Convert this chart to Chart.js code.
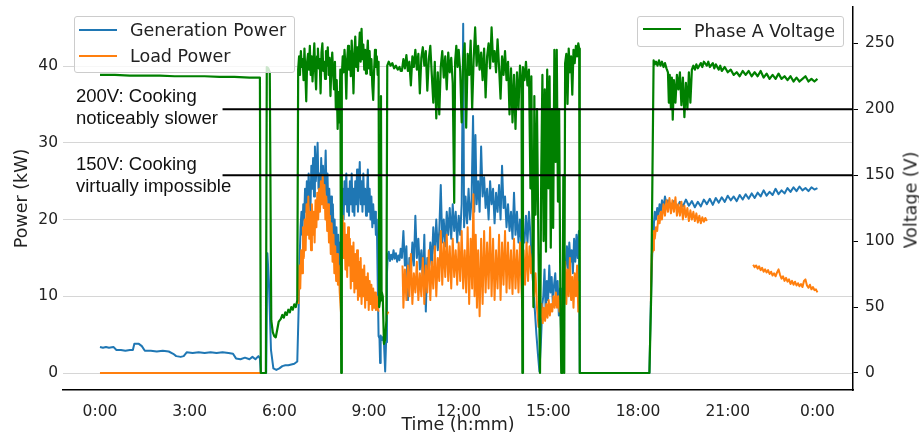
<!DOCTYPE html>
<html>
<head>
<meta charset="utf-8">
<script src="https://cdn.jsdelivr.net/npm/chart.js@4.4.1/dist/chart.umd.min.js"></script>
<style>
  html, body { margin: 0; padding: 0; background: #fff; }
  #wrap { position: relative; width: 919px; height: 439px; overflow: hidden; }
  #profile { display: block; }
  .box { position: absolute; box-sizing: border-box; border: 1px solid #cccccc; border-radius: 3px; background: rgba(255,255,255,0.8); }
  .swatch { position: absolute; height: 2px; }
  .txt { position: absolute; font: 17.5px "DejaVu Sans"; line-height: 19px; white-space: nowrap; color: #222; }
  .note { position: absolute; font: 18.5px "Liberation Sans"; line-height: 22px; white-space: nowrap; color: #111; }
  #vtitle { position: absolute; left: 911px; top: 200px; font: 17.5px "DejaVu Sans"; line-height: 19px; white-space: nowrap; color: #222;
            transform: translate(-50%, -50%) rotate(-90deg); }
</style>
</head>
<body>
<div id="wrap">
  <canvas id="profile" width="919" height="439"></canvas>

  <div class="box" style="left:74px;top:16px;width:221px;height:57px;"></div>
  <div class="swatch" style="left:79px;top:29px;width:38px;background:#1f77b4;"></div>
  <div class="txt" style="left:130px;top:21px;">Generation Power</div>
  <div class="swatch" style="left:79px;top:55px;width:38px;background:#ff7f0e;"></div>
  <div class="txt" style="left:130px;top:47px;">Load Power</div>

  <div class="box" style="left:637px;top:16px;width:207px;height:31px;"></div>
  <div class="swatch" style="left:643px;top:28px;width:38px;background:#008000;"></div>
  <div class="txt" style="left:694px;top:21.5px;">Phase A Voltage</div>

  <div class="note" style="left:76px;top:85px;">200V: Cooking<br>noticeably slower</div>
  <div class="note" style="left:76px;top:153px;">150V: Cooking<br>virtually impossible</div>

  <div id="vtitle">Voltage (V)</div>
</div>

<script>
// x ticks (hours of the day)
const tickHours = [0, 3, 6, 9, 12, 15, 18, 21, 24];
const tickLabels = ["0:00", "3:00", "6:00", "9:00", "12:00", "15:00", "18:00", "21:00", "0:00"];
const powerTicks = [0, 10, 20, 30, 40];
const voltTicks = [0, 50, 100, 150, 200, 250];

// cooking thresholds (V), drawn from this hour to the right edge
const thresholdVolts = [200, 150];
const thresholdFrom = 4.1;

// Generation power (kW)
const genHours = [
  0, 0.1, 0.2, 0.3, 0.45, 0.55, 0.7, 0.85, 1.0, 1.1, 1.15, 1.3, 1.4, 1.5, 1.7, 1.9, 2.1, 2.3, 2.45, 2.55, 2.7, 2.8, 2.9,
  3.1, 3.3, 3.5, 3.7, 3.9, 4.1, 4.3, 4.45, 4.55, 4.7, 4.85, 5.0, 5.1, 5.2, 5.3, 5.35,
  5.38, 5.56, 5.6, 5.65, 5.72, 5.8, 5.9, 6.0, 6.1, 6.2, 6.3, 6.4, 6.5, 6.6,
  6.65, 6.68, 6.71, 6.74, 6.77, 6.8, 6.83, 6.86, 6.89, 6.92, 6.95, 6.98, 7.01, 7.04, 7.07, 7.1, 7.13, 7.16, 7.19, 7.22,
  7.25, 7.28, 7.31, 7.34, 7.37, 7.4, 7.43, 7.46, 7.49, 7.52, 7.55, 7.58, 7.61, 7.64, 7.67, 7.7, 7.73, 7.76, 7.79, 7.82,
  7.85, 7.88, 7.91, 7.94, 7.97, 8.0, 8.03, 8.06, 8.09, 8.12, 8.15, 8.18, 8.21, 8.24, 8.27, 8.3, 8.33, 8.36, 8.39, 8.42,
  8.45, 8.48, 8.51, 8.54, 8.57, 8.6, 8.63, 8.66, 8.69, 8.72, 8.75, 8.78, 8.81, 8.84, 8.87, 8.9, 8.93, 8.96, 8.99, 9.02,
  9.05, 9.08, 9.11, 9.14, 9.17, 9.2, 9.23, 9.26, 9.29, 9.32, 9.35, 9.37, 9.39, 9.43, 9.47, 9.5, 9.54, 9.57, 9.6, 9.63,
  9.66, 9.7, 9.74, 9.78, 9.82, 9.86, 9.9, 9.94, 9.98, 10.02, 10.06, 10.1,
  10.15, 10.2, 10.25, 10.3, 10.35, 10.4, 10.45, 10.5, 10.55, 10.6, 10.65, 10.7, 10.75, 10.8, 10.85, 10.9, 10.95, 11.0,
  11.05, 11.1, 11.15, 11.2, 11.25, 11.3, 11.35, 11.4, 11.45, 11.5, 11.55, 11.6, 11.65, 11.7, 11.75, 11.8, 11.85, 11.9,
  11.95, 12.0, 12.05, 12.1, 12.15, 12.18, 12.23, 12.28, 12.33, 12.38, 12.43, 12.48, 12.52, 12.56, 12.6, 12.65, 12.7,
  12.75, 12.8, 12.85, 12.9, 12.95, 13.0, 13.05, 13.1, 13.15, 13.2, 13.25, 13.3, 13.35, 13.4, 13.45, 13.5, 13.55, 13.6,
  13.65, 13.7, 13.75, 13.8, 13.85, 13.9, 13.95, 14.0, 14.05, 14.1, 14.13, 14.16, 14.2, 14.25, 14.3, 14.35, 14.4, 14.45,
  14.5, 14.55, 14.6, 14.65, 14.7, 14.75, 14.8,
  14.83, 14.87, 14.91, 14.95, 14.99, 15.03, 15.07, 15.11, 15.15, 15.19, 15.23, 15.27, 15.31, 15.35, 15.39, 15.42, 15.45,
  15.49, 15.52, 15.55, 15.58, 15.62, 15.66, 15.7, 15.74, 15.78, 15.82, 15.86, 15.9, 15.94, 15.98, 16.02, 16.05, 18.38,
  18.41, 18.44, 18.47, 18.5, 18.53, 18.56, 18.6, 18.64, 18.68, 18.72, 18.76, 18.8, 18.85, 18.9, 18.95, 19.0, 19.1, 19.2,
  19.3, 19.4, 19.5, 19.6, 19.7, 19.8, 19.9, 20.0, 20.1, 20.2, 20.3, 20.4, 20.5, 20.6, 20.7, 20.8, 20.9, 21.0, 21.1, 21.2,
  21.3, 21.4, 21.5, 21.6, 21.7, 21.8, 21.9, 22.0, 22.1, 22.2, 22.3, 22.4, 22.5, 22.6, 22.7, 22.8, 22.9, 23.0, 23.1, 23.2,
  23.3, 23.4, 23.5, 23.6, 23.7, 23.8, 23.9, 24.0
];
const genKW = [
  3.4, 3.3, 3.4, 3.3, 3.4, 3.0, 3.0, 2.9, 3.0, 3.0, 3.8, 3.8, 3.5, 2.9, 2.9, 2.8, 2.9, 2.8, 2.5, 2.2, 2.1, 2.2, 2.7,
  2.6, 2.7, 2.6, 2.7, 2.6, 2.7, 2.6, 2.5, 1.9, 1.8, 2.0, 1.8, 2.1, 1.8, 2.2, 1.9,
  0, 0, 15.6, 12, 3, 0.6, 0.4, 0.6, 0.9, 1.0, 1.0, 1.1, 1.2, 1.5,
  9, 15, 19, 21, 18, 22, 20, 24, 21, 25, 22, 26, 23, 21, 27, 24, 28, 23, 29.5, 25,
  27, 30, 24, 26, 22, 28, 24, 27, 22, 25, 29, 23, 26, 21, 24, 20, 23, 18, 22, 17,
  20, 14.5, 19, 15, 18, 14, 17, 11, 21, 24, 20, 25, 22, 26, 21, 24, 20.5, 25, 22, 26,
  21, 24, 20.5, 25, 22, 26.5, 21, 24, 27.5, 22, 25, 21, 26, 22, 24, 20.5, 23, 26.5, 21, 24,
  20, 23, 19, 22, 19.5, 21, 18, 20, 12, 4.8, 4.5, 1.3, 4.9, 4.3, 4.7, 3.9, 0.2, 4, 13, 15.5,
  15.8, 14.6, 15.4, 14.8, 16, 14.9, 15.6, 14.5, 15.3, 14.7, 16.2, 15,
  18.5, 14, 16.5, 9.5, 15, 13, 17, 14, 20.5, 15, 17.5, 13.5, 16, 12, 18, 8, 15, 13,
  17, 14, 19, 15.5, 20, 16, 18.5, 24.5, 17, 20, 16.5, 21, 18, 21.5, 17.5, 22, 18.5, 21,
  17, 20.5, 18, 22, 45.5, 19, 23, 19.5, 24, 20, 22.5, 33.5, 21, 31, 22, 25, 21,
  29.5, 23, 25.5, 21.5, 24, 20, 25, 22, 24, 19.5, 23.5, 21, 24.5, 20, 27, 21.5, 23, 19,
  22, 18.5, 21, 17.5, 23.5, 18, 21, 17, 20, 16.5, 9, 18, 17, 20.5, 17, 21, 18, 14,
  11, 8, 5, 2.5, 0.2, 4, 9,
  10, 13.5, 8, 12, 9.5, 14, 10.5, 12.5, 9, 11.5, 13, 9.5, 12, 7.5, 11, 6, 1.5,
  2, 8, 13, 14, 16.5, 13.5, 17, 14.5, 16, 13, 17.5, 14.5, 18, 15, 18.5, 0, 0,
  6, 11, 15, 18, 19.5, 21, 20, 21.5, 20.5, 22, 21, 22.5, 21.5, 23, 22, 22.5, 21.8, 22.4,
  21.6, 22.3, 21.7, 22.6, 21.8, 22.4, 21.6, 22.3, 21.7, 22.6, 22, 22.7, 21.9, 22.8, 22.2, 22.9, 22.3, 23.1, 22.5, 23,
  22.4, 23.2, 22.6, 23.3, 22.7, 23.4, 22.8, 23.5, 23, 23.8, 23.1, 23.6, 23.2, 24, 23.3, 23.8, 23.4, 24.1, 23.6, 24.2,
  23.7, 24.3, 23.8, 24.1, 23.7, 24.2, 23.9, 24.1
];

// Load power (kW), null = no reading
const loadHours = [
  0, 5.4, 5.41,
  6.64, 6.67, 6.7, 6.73, 6.76, 6.79, 6.82, 6.85, 6.88, 6.91, 6.94, 6.97, 7.0, 7.03, 7.06, 7.09, 7.12, 7.15, 7.18, 7.21,
  7.24, 7.27, 7.3, 7.33, 7.36, 7.39, 7.42, 7.45, 7.48, 7.51, 7.54, 7.57, 7.6, 7.63, 7.66, 7.69, 7.72, 7.75, 7.78, 7.81,
  7.84, 7.87, 7.9, 7.93, 7.96, 7.99, 8.02, 8.06, 8.09, 8.12, 8.15, 8.18, 8.21, 8.24, 8.27, 8.3, 8.33, 8.36, 8.39, 8.42,
  8.45, 8.48, 8.51, 8.54, 8.57, 8.6, 8.63, 8.66, 8.69, 8.72, 8.75, 8.78, 8.81, 8.84, 8.87, 8.9, 8.93, 8.96, 8.99, 9.02,
  9.05, 9.08, 9.11, 9.14, 9.17, 9.2, 9.23, 9.26, 9.29, 9.32, 9.33, 9.6, 9.65, 9.66,
  10.12, 10.15, 10.2, 10.25, 10.3, 10.35, 10.4, 10.45, 10.5, 10.55, 10.6, 10.65, 10.7, 10.75, 10.8, 10.85, 10.9, 10.95,
  11.0, 11.05, 11.1, 11.15, 11.2, 11.25, 11.3, 11.35, 11.4, 11.45, 11.5, 11.55, 11.6, 11.65, 11.7, 11.75, 11.8, 11.85,
  11.9, 11.95, 12.0, 12.05, 12.1, 12.15, 12.2, 12.25, 12.3, 12.35, 12.4, 12.45, 12.49, 12.53, 12.57, 12.61, 12.65, 12.7,
  12.75, 12.8, 12.85, 12.9, 12.95, 13.0, 13.05, 13.1, 13.15, 13.2, 13.25, 13.3, 13.35, 13.4, 13.45, 13.5, 13.55, 13.6,
  13.65, 13.7, 13.75, 13.8, 13.85, 13.9, 13.95, 14.0, 14.05, 14.1, 14.13, 14.17, 14.22, 14.27, 14.32, 14.37, 14.42,
  14.47, 14.52, 14.57, 14.62, 14.67, 14.72, 14.77, 14.81, 14.85, 14.89, 14.93, 14.97, 15.01, 15.05, 15.09, 15.13, 15.17,
  15.21, 15.25, 15.29, 15.33, 15.37, 15.41, 15.44, 15.48, 15.52, 15.56, 15.6, 15.64, 15.68, 15.72, 15.76, 15.8, 15.84,
  15.88, 15.92, 15.96, 16.0, 16.03, 16.04,
  18.4, 18.43, 18.46, 18.5, 18.53, 18.56, 18.6, 18.64, 18.68, 18.72, 18.76, 18.8, 18.85, 18.9, 18.95, 19.0, 19.05, 19.1,
  19.15, 19.2, 19.25, 19.3, 19.35, 19.4, 19.45, 19.5, 19.55, 19.6, 19.65, 19.7, 19.75, 19.8, 19.85, 19.9, 19.95, 20.0,
  20.05, 20.1, 20.15, 20.2, 20.25, 20.3, 20.31,
  21.85, 21.9, 21.95, 22.0, 22.05, 22.1, 22.15, 22.2, 22.25, 22.3, 22.35, 22.4, 22.45, 22.5, 22.55, 22.6, 22.65, 22.7,
  22.75, 22.8, 22.85, 22.9, 22.95, 23.0, 23.05, 23.1, 23.15, 23.2, 23.25, 23.3, 23.35, 23.4, 23.45, 23.5, 23.55, 23.6,
  23.65, 23.7, 23.75, 23.8, 23.85, 23.9, 23.95, 24.0
];
const loadKW = [
  0, 0, null,
  9, 14, 11, 16, 13, 19, 15, 20, 16, 22, 18, 23, 17.5, 21, 16, 22, 18, 21, 17, 22.5,
  19, 23.5, 20, 24, 21, 25, 22, 25.8, 21.5, 24.5, 20, 23, 18.5, 22, 17, 20.5, 15.5, 19.5, 14.5, 18,
  13, 16.5, 12, 15.5, 11.5, 14, 10.5, 8, 18, 20.5, 15, 19.5, 13.5, 18, 12.5, 19, 14, 17.5, 11, 16.5,
  12, 17, 10.5, 15.5, 11, 16, 9.5, 14.5, 10, 15, 9, 13.5, 10, 14, 8.5, 12.5, 9.5, 13, 8.2, 12,
  9, 11.5, 8.2, 11, 8.5, 10.5, 8.2, 10, 8.5, 8, null, 7.6, 8.0, null,
  14, 8.5, 13.5, 9.5, 14, 10, 15.5, 9, 13, 10.5, 14.5, 9.5, 13, 10, 15, 9, 14, 10.5,
  16, 9.5, 14.5, 11, 16.5, 10, 15, 12, 18.5, 11.5, 17, 12.5, 18, 12, 16.5, 11, 17.5, 12.5,
  16, 11.5, 17, 12, 18.5, 11, 16, 10.5, 19, 9, 17.5, 11, 23.3, 10, 18, 8.5, 16, 7.4,
  17.5, 9, 18.5, 10.5, 17, 11, 19, 10, 17.5, 9.5, 16, 11, 18, 9.5, 17, 11.5, 18.5, 10.5,
  17, 11, 16, 10.3, 17.5, 11, 16, 10.5, 17, 11, 8.5, 16, 11.5, 17, 12, 16.5, 13,
  15.5, 10, 13, 8.5, 6, 7, 9, 6.5, 8.5, 6.8, 9, 7.2, 9.5, 7.5, 9, 8, 10,
  8.5, 10.5, 8.5, 10, 8, 9.5, 5, 4, 11, 14.5, 9, 13.5, 10, 15, 9.5, 12.5, 8.5,
  13, 10, 14, 8, 12, null,
  9, 10.5, 15.5, 16, 18.5, 17.5, 19, 18.5, 20.5, 19.5, 21, 20, 22, 20.5, 22.5, 21, 22.8, 20.8,
  22.5, 21, 22.9, 20.5, 22, 20.5, 22.3, 20, 21.8, 20.3, 21.5, 19.8, 21.2, 20, 21, 19.8, 20.8, 19.6,
  20.5, 19.5, 20.3, 19.7, 20.2, 19.8, null,
  14.1, 13.8, 14.0, 13.6, 13.9, 13.4, 13.7, 13.2, 13.5, 13.1, 13.4, 12.9, 13.2, 12.7, 13.0, 12.6, 13.1, 13.5,
  12.8, 12.3, 12.6, 12.0, 12.4, 11.9, 12.2, 11.6, 12.0, 11.5, 11.9, 11.4, 11.7, 11.3, 11.6, 11.2, 12.0, 12.2,
  11.4, 11.1, 11.5, 10.9, 11.2, 10.8, 10.9, 10.5
];

// Phase A voltage (V)
const voltHours = [
  0, 0.5, 1, 1.5, 2, 2.5, 3, 3.5, 4, 4.5, 5, 5.35,
  5.38, 5.55, 5.58, 5.63, 5.68, 5.73, 5.78, 5.83, 5.88, 5.93, 5.98,
  6.05, 6.1, 6.15, 6.2, 6.25, 6.3, 6.35, 6.4, 6.45, 6.5, 6.55, 6.6,
  6.63, 6.66, 6.69, 6.72, 6.75, 6.78, 6.81, 6.84, 6.87, 6.9, 6.93, 6.96, 6.99, 7.02, 7.05, 7.08, 7.11, 7.14, 7.17, 7.2,
  7.23, 7.26, 7.29, 7.32, 7.35, 7.38, 7.41, 7.44, 7.47, 7.5, 7.53, 7.56, 7.59, 7.62, 7.65, 7.68, 7.71, 7.74, 7.77, 7.8,
  7.83, 7.86, 7.89, 7.92, 7.95, 7.98, 8.01, 8.04, 8.07, 8.09, 8.12, 8.15, 8.18, 8.21, 8.24, 8.27, 8.3, 8.33, 8.36, 8.39,
  8.42, 8.45, 8.48, 8.51, 8.54, 8.57, 8.6, 8.63, 8.66, 8.69, 8.72, 8.75, 8.78, 8.81, 8.84, 8.87, 8.9, 8.93, 8.96, 8.99,
  9.02, 9.05, 9.08, 9.11, 9.14, 9.17, 9.2, 9.23, 9.26, 9.29,
  9.32, 9.34, 9.37, 9.4, 9.42, 9.46, 9.5, 9.54, 9.58, 9.61,
  9.66, 9.72, 9.78, 9.84, 9.9, 9.96, 10.02, 10.06,
  10.1, 10.15, 10.2, 10.25, 10.3, 10.35, 10.4, 10.45, 10.5, 10.55, 10.6, 10.65, 10.7, 10.75, 10.8, 10.85, 10.9, 10.95,
  11.0, 11.05, 11.1, 11.15, 11.2, 11.25, 11.3, 11.35, 11.4, 11.45, 11.5, 11.55, 11.6, 11.65, 11.7, 11.75, 11.8, 11.85,
  11.88, 11.92, 11.96, 12.0, 12.05, 12.1, 12.15, 12.2, 12.25, 12.3, 12.35, 12.4, 12.45, 12.5, 12.55, 12.6, 12.65, 12.7,
  12.75, 12.8, 12.85, 12.9, 12.95, 13.0, 13.05, 13.1, 13.15, 13.2, 13.25, 13.3, 13.35, 13.4, 13.45, 13.5, 13.55, 13.6,
  13.65, 13.7, 13.75, 13.8, 13.85, 13.9, 13.95, 14.0, 14.05, 14.1, 14.13, 14.15, 14.2, 14.25, 14.3, 14.35, 14.4, 14.43,
  14.47, 14.5, 14.53, 14.57, 14.62, 14.67, 14.72, 14.76, 14.8, 14.84, 14.88, 14.92, 14.96, 15.0, 15.04, 15.08, 15.12,
  15.16, 15.2, 15.24, 15.28, 15.32, 15.36, 15.4, 15.43, 15.47, 15.5, 15.53, 15.56, 15.6, 15.64, 15.68, 15.72, 15.76,
  15.8, 15.84, 15.88, 15.92, 15.96, 16.0, 16.03, 16.05, 18.38, 18.44,
  18.52, 18.56, 18.6, 18.65, 18.7, 18.75, 18.8, 18.85, 18.9, 18.95, 19.0, 19.03, 19.06, 19.1, 19.13, 19.16, 19.2, 19.25,
  19.3, 19.35, 19.4, 19.45, 19.5, 19.55, 19.6, 19.65, 19.7, 19.75, 19.8, 19.85, 19.9, 19.95, 20.0, 20.1, 20.15, 20.2,
  20.3, 20.35, 20.4, 20.5, 20.55, 20.6, 20.7, 20.75, 20.8, 20.9, 21.0, 21.1, 21.2, 21.3, 21.4, 21.5, 21.6, 21.7, 21.8,
  21.9, 22.0, 22.1, 22.2, 22.3, 22.4, 22.5, 22.6, 22.7, 22.8, 22.9, 23.0, 23.1, 23.2, 23.3, 23.4, 23.5, 23.6, 23.7,
  23.8, 23.9, 24.0
];
const voltV = [
  226, 226, 225.5, 225.5, 225.5, 225, 225, 225, 224.5, 224.5, 224, 224,
  0, 0, 232, 231, 228, 40, 31, 28, 27, 33, 39,
  41, 44, 42, 46, 44, 48, 46, 50, 48, 52, 50, 55,
  230, 240, 226, 244, 232, 238, 222, 246, 228, 206, 236, 242, 230, 248, 226, 240, 221, 236, 250, 228,
  215, 240, 246, 231, 238, 212, 243, 250, 229, 236, 223, 244, 233, 247, 226, 239, 210, 232, 243, 227,
  215, 236, 200, 222, 185, 213, 190, 230, 0, 225, 240, 228, 245, 233, 208, 238, 248, 230, 244, 225,
  252, 236, 212, 241, 255, 232, 247, 229, 243, 258, 236, 261, 238, 249, 230, 245, 227, 240, 252, 231,
  244, 226, 238, 218, 207, 229, 245, 232, 240, 226,
  236, 50, 55, 210, 62, 58, 22, 25, 40, 233,
  236, 233, 235, 231, 233, 230, 232, 229,
  229, 238, 231, 241, 229, 236, 218, 240, 232, 245, 230, 242, 212, 239, 247, 233, 244, 214,
  238, 248, 226, 205, 236, 193, 228, 196, 232, 244, 224, 240, 215, 243, 228, 239, 220, 129,
  236, 248, 232, 245, 229, 190, 238, 250, 186, 242, 226, 252, 200, 238, 262, 233, 248, 230,
  243, 222, 246, 209, 240, 250, 231, 262, 236, 244, 228, 253, 232, 208, 240, 226, 244, 222,
  236, 196, 231, 190, 226, 185, 228, 200, 233, 219, 0, 232, 222, 236, 218, 230, 140, 225,
  100, 50, 210, 120, 200, 90, 0, 150, 226, 100, 215, 92, 230, 140, 225, 95, 200,
  110, 245, 160, 245, 130, 200, 60, 0, 0, 150, 0, 235, 242, 204, 246, 228, 240,
  211, 245, 235, 248, 240, 250, 246, 0, 0, 60,
  237, 234, 236, 233, 237, 233, 236, 232, 235, 231, 228, 205, 226, 200, 224, 192, 222, 205,
  226, 215, 228, 203, 224, 194, 220, 200, 228, 205, 230, 233, 230, 234, 231, 235, 232, 236,
  233, 236, 232, 235, 231, 234, 230, 233, 229, 232, 228, 230, 226, 228, 225, 229, 226, 229, 225,
  228, 225, 229, 224, 227, 223, 226, 223, 227, 223, 225, 222, 225, 221, 224, 221, 223, 225, 221,
  223, 221, 223
];

function pts(hours, vals) {
  return hours.map((h, i) => ({ x: h, y: vals[i] }));
}

Chart.defaults.font.family = "DejaVu Sans";
Chart.defaults.font.size = 15.5;
Chart.defaults.color = "#222";

const canvas = document.getElementById("profile");
const ctx = canvas.getContext("2d");

const lineBase = { pointRadius: 0, tension: 0, borderJoinStyle: "round", spanGaps: false, fill: false };
const titleFont = { family: "DejaVu Sans", size: 17.5 };

// vertical axes: no extra room for half tick labels, chart area starts at top padding
function noPad(s) {
  s.paddingTop = 0;
  s.paddingBottom = 0;
}

const thresholdSets = thresholdVolts.map(v => ({
  ...lineBase,
  label: v + "V",
  data: [{ x: thresholdFrom, y: v }, { x: 25.19, y: v }],
  yAxisID: "y1",
  borderColor: "#000",
  borderWidth: 2,
  order: 0
}));

const chart = new Chart(ctx, {
  type: "line",
  data: {
    datasets: [
      ...thresholdSets,
      {
        ...lineBase,
        label: "Phase A Voltage",
        data: pts(voltHours, voltV),
        yAxisID: "y1",
        borderColor: "#008000",
        borderWidth: 2.2,
        order: 1
      },
      {
        ...lineBase,
        label: "Load Power",
        data: pts(loadHours, loadKW),
        yAxisID: "y",
        borderColor: "#ff7f0e",
        borderWidth: 2,
        order: 2
      },
      {
        ...lineBase,
        label: "Generation Power",
        data: pts(genHours, genKW),
        yAxisID: "y",
        borderColor: "#1f77b4",
        borderWidth: 2,
        order: 3
      }
    ]
  },
  options: {
    responsive: false,
    animation: false,
    events: [],
    layout: { padding: { top: 7, left: 0, right: 0, bottom: 0 } },
    plugins: {
      legend: { display: false },
      tooltip: { enabled: false }
    },
    scales: {
      x: {
        type: "linear",
        min: -1.237,
        max: 25.19,
        grid: { display: false },
        border: { display: true, color: "#000", width: 1.6 },
        afterBuildTicks: s => { s.ticks = tickHours.map(v => ({ value: v })); },
        afterFit: s => { s.height = 49; },
        ticks: {
          autoSkip: false,
          maxRotation: 0,
          padding: 5,
          callback: v => tickLabels[tickHours.indexOf(v)]
        },
        title: { display: true, text: "Time (h:mm)", font: titleFont, padding: { top: 0, bottom: 3 } }
      },
      y: {
        position: "left",
        min: -2.215,
        max: 47.69,
        grid: { color: "#d6d6d6", lineWidth: 1, drawTicks: false },
        border: { display: false },
        afterBuildTicks: s => { s.ticks = powerTicks.map(v => ({ value: v })); },
        afterFit: s => { s.width = 63; noPad(s); },
        ticks: { padding: 5 },
        title: { display: true, text: "Power (kW)", font: titleFont, padding: { top: 12, bottom: 0 } }
      },
      y1: {
        position: "right",
        min: -12.89,
        max: 277.5,
        grid: { drawOnChartArea: false, drawTicks: true, tickLength: 5, tickColor: "#000", tickWidth: 1 },
        border: { display: true, color: "#000", width: 1.5 },
        afterBuildTicks: s => { s.ticks = voltTicks.map(v => ({ value: v })); },
        afterFit: s => { s.width = 66; noPad(s); },
        ticks: { padding: 7 }
      }
    }
  }
});
</script>
</body>
</html>
